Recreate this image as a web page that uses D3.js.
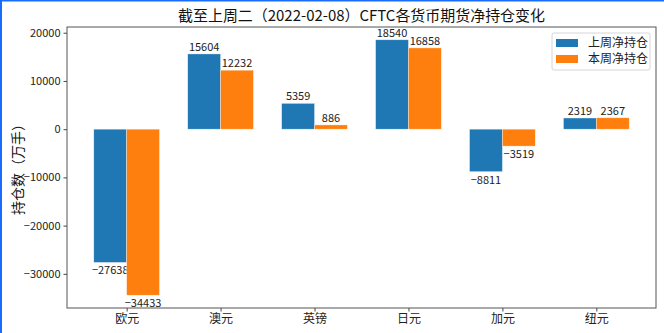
<!DOCTYPE html>
<html>
<head>
<meta charset="utf-8">
<script src="https://cdn.jsdelivr.net/npm/d3@7"></script>
<style>
body { margin: 0; background: #fff; }
text { font-family: "Noto Sans CJK SC", "DejaVu Sans", sans-serif; }
</style>
</head>
<body>
<script>
var categories = ["欧元", "澳元", "英镑", "日元", "加元", "纽元"];
var lastWeek = [-27638, 15604, 5359, 18540, -8811, 2319];
var thisWeek = [-34433, 12232, 886, 16858, -3519, 2367];
var seriesNames = ["上周净持仓", "本周净持仓"];
var colors = ["#1f77b4", "#ff7f0e"];
var yTicks = [-30000, -20000, -10000, 0, 10000, 20000];

var W = 664, H = 333;
var m = { left: 67, right: 8, top: 27, bottom: 25 };
var bw = 0.35;

var svg = d3.select("body").append("svg").attr("width", W).attr("height", H);
svg.append("rect").attr("width", W).attr("height", H).attr("fill", "#fff");

var x = d3.scaleLinear().domain([-0.635, 5.635]).range([m.left, W - m.right]);
var y = d3.scaleLinear().domain([-37082, 21189]).range([H - m.bottom, m.top]);

var g = svg.append("g");
var series = [lastWeek, thisWeek];

series.forEach(function(vals, s) {
	g.selectAll(".bar" + s).data(vals).enter().append("rect")
		.attr("x", function(d, i) { return x(i - bw + s * bw); })
		.attr("width", x(bw) - x(0))
		.attr("y", function(d) { return y(Math.max(0, d)); })
		.attr("height", function(d) { return Math.abs(y(d) - y(0)); })
		.attr("fill", colors[s])
		.attr("stroke", "#fff").attr("stroke-opacity", 0.6).attr("stroke-width", 0.6);
	g.selectAll(".lab" + s).data(vals).enter().append("text")
		.attr("x", function(d, i) { return x(i - bw / 2 + s * bw); })
		.attr("y", function(d) { return d >= 0 ? y(d) - 3 : y(d) + 12; })
		.attr("text-anchor", "middle")
		.attr("font-size", 11).attr("fill", "#222")
		.text(function(d) { return String(d).replace("-", "\u2212"); });
});

var yAxis = d3.axisLeft(y).tickValues(yTicks).tickSize(3.5).tickPadding(3)
	.tickFormat(function(d) { return String(d).replace("-", "\u2212"); });
var ya = svg.append("g").attr("transform", "translate(" + m.left + ",0)").call(yAxis);
ya.select(".domain").remove();
ya.selectAll("text").attr("font-size", 11).attr("fill", "#222");
ya.selectAll("line").attr("stroke", "#444");

var xAxis = d3.axisBottom(x).tickValues(d3.range(categories.length)).tickSize(3.5).tickPadding(3)
	.tickFormat(function(d) { return categories[d]; });
var xa = svg.append("g").attr("transform", "translate(0," + (H - m.bottom) + ")").call(xAxis);
xa.select(".domain").remove();
xa.selectAll("text").attr("font-size", 12).attr("fill", "#222");
xa.selectAll("line").attr("stroke", "#444");

svg.append("rect")
	.attr("x", m.left).attr("y", m.top)
	.attr("width", W - m.left - m.right).attr("height", H - m.top - m.bottom)
	.attr("fill", "none").attr("stroke", "#555").attr("stroke-width", 1);

svg.append("text")
	.attr("x", 361.5).attr("y", 21)
	.attr("text-anchor", "middle").attr("font-size", 15).attr("fill", "#111")
	.attr("textLength", 367).attr("lengthAdjust", "spacingAndGlyphs")
	.text("截至上周二（2022-02-08）CFTC各货币期货净持仓变化");

svg.append("text")
	.attr("transform", "translate(23,166) rotate(-90)")
	.attr("text-anchor", "middle").attr("font-size", 14).attr("fill", "#111")
	.text("持仓数（万手）");

var lg = svg.append("g").attr("transform", "translate(552,33)");
lg.append("rect").attr("width", 98).attr("height", 37).attr("rx", 2)
	.attr("fill", "#fff").attr("stroke", "#ccc").attr("stroke-width", 0.8);
seriesNames.forEach(function(n, i) {
	lg.append("rect").attr("x", 4).attr("y", 6 + i * 16).attr("width", 22).attr("height", 8).attr("fill", colors[i]);
	lg.append("text").attr("x", 36).attr("y", 14 + i * 16).attr("font-size", 12).attr("fill", "#222").text(n);
});

svg.append("rect").attr("x", 0).attr("y", 0).attr("width", 2).attr("height", H).attr("fill", "#1a6cff");
svg.append("rect").attr("x", 0).attr("y", 0).attr("width", W).attr("height", 1.5).attr("fill", "#1a6cff");
</script>
</body>
</html>
